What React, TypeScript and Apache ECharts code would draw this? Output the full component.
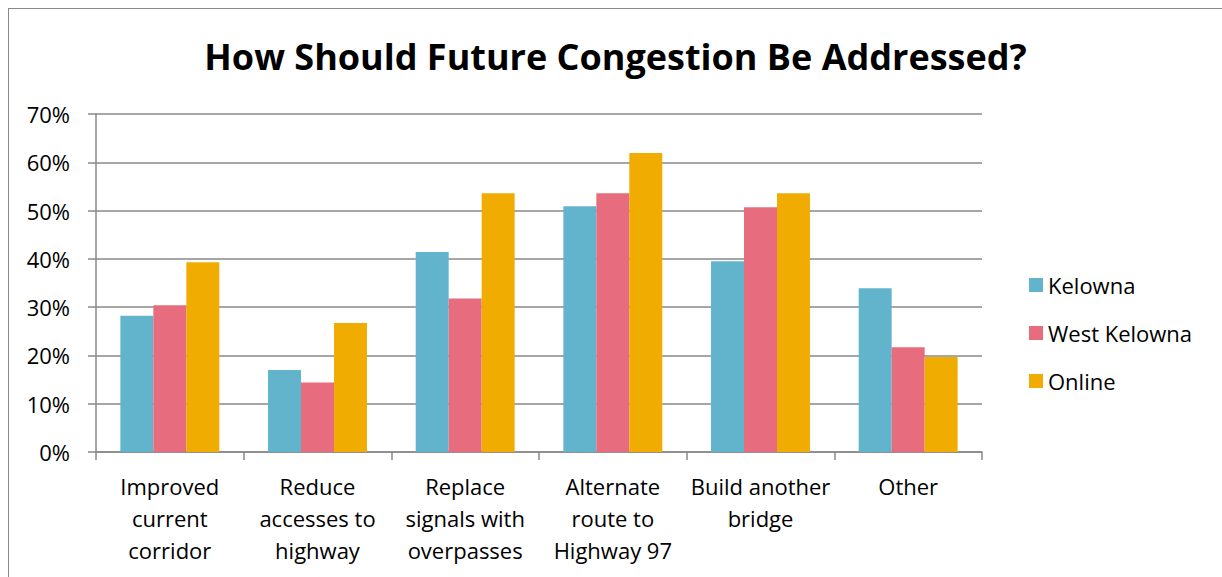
import React, { useEffect, useRef } from "react";
import * as echarts from "echarts";

const title = "How Should Future Congestion Be Addressed?";
const categories = [
  "Improved\ncurrent\ncorridor",
  "Reduce\naccesses to\nhighway",
  "Replace\nsignals with\noverpasses",
  "Alternate\nroute to\nHighway 97",
  "Build another\nbridge",
  "Other",
];
const kelowna = [28.2, 17.0, 41.4, 50.9, 39.5, 33.9];
const westKelowna = [30.4, 14.4, 31.8, 53.6, 50.7, 21.7];
const online = [39.3, 26.7, 53.6, 61.9, 53.6, 19.7];
const seriesNames = ["Kelowna", "West Kelowna", "Online"];
const colors = ["#62B4CD", "#E66C7E", "#F0AC00"];

const FONT = "Open Sans";

export default function App() {
  const ref = useRef<HTMLDivElement>(null);
  useEffect(() => {
    if (!ref.current) return;
    const chart = echarts.init(ref.current, undefined, { renderer: "svg" });
    const values = [kelowna, westKelowna, online];
    chart.setOption({
      animation: false,
      backgroundColor: "#fff",
      title: {
        text: title,
        left: "center",
        top: 24,
        textStyle: { fontFamily: FONT, fontSize: 36, fontWeight: "bold", color: "#000" },
      },
      legend: {
        orient: "vertical",
        left: 1015,
        top: 260,
        itemWidth: 14,
        itemHeight: 14,
        itemGap: 26,
        icon: "rect",
        textStyle: { fontFamily: FONT, fontSize: 22, color: "#000" },
        data: seriesNames,
      },
      grid: { left: 87, top: 105, right: 240, bottom: 125, containLabel: false },
      xAxis: {
        type: "category",
        data: categories,
        axisLine: { show: true, lineStyle: { color: "#888", width: 1.5 } },
        axisTick: { show: true, length: 8, lineStyle: { color: "#888", width: 1.5 } },
        axisLabel: {
          interval: 0,
          margin: 18,
          fontFamily: FONT,
          fontSize: 22,
          lineHeight: 32,
          color: "#000",
        },
      },
      yAxis: {
        type: "value",
        min: 0,
        max: 70,
        interval: 10,
        axisLine: { show: true, lineStyle: { color: "#888", width: 1.5 } },
        axisTick: { show: true, length: 8, lineStyle: { color: "#888", width: 1.5 } },
        splitLine: { show: true, lineStyle: { color: "#888", width: 1.5 } },
        axisLabel: {
          formatter: "{value}%",
          margin: 26,
          fontFamily: FONT,
          fontSize: 22,
          color: "#000",
        },
      },
      series: seriesNames.map((name, i) => ({
        name,
        type: "bar",
        data: values[i],
        barGap: "0%",
        barCategoryGap: "33%",
        itemStyle: { color: colors[i] },
      })),
    });
    return () => chart.dispose();
  }, []);
  return (
    <div
      ref={ref}
      style={{
        position: "fixed",
        left: 8,
        top: 8,
        width: 1214,
        height: 569,
        boxSizing: "border-box",
        borderTop: "1px solid #888",
        borderLeft: "1px solid #888",
        background: "#fff",
      }}
    />
  );
}
